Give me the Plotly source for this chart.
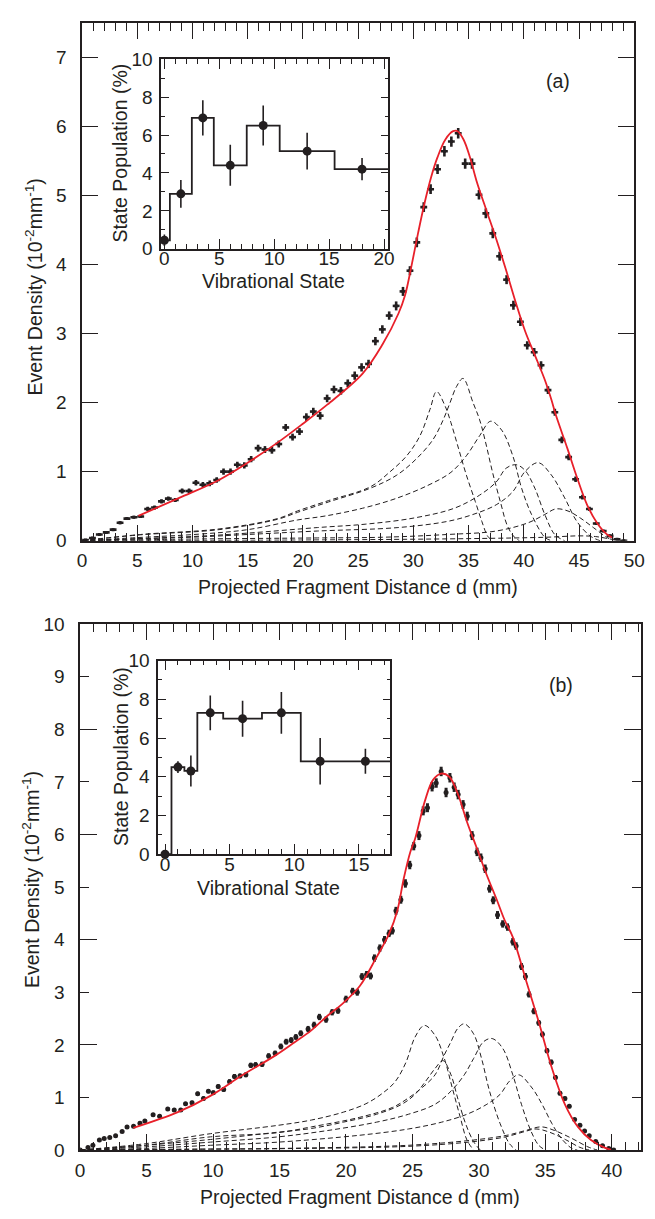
import plotly.graph_objects as go

FONT = "Liberation Sans, Arial, Helvetica, sans-serif"
INK = "#231f20"
RED = "#e8202a"
W, H = 655, 1219

# ---------------- Panel (a): measured points ----------------
a_x = [0.31, 0.94, 1.56, 2.19, 2.81, 3.44, 4.06, 4.69, 5.31, 5.94, 6.56, 7.19, 7.81, 8.44, 9.06, 9.69,
       10.31, 10.94, 11.56, 12.19, 12.81, 13.44, 14.06, 14.69, 15.31, 15.94, 16.56, 17.19, 17.81, 18.44,
       19.06, 19.69, 20.31, 20.94, 21.56, 22.19, 22.81, 23.44, 24.06, 24.69, 25.31, 25.94, 26.56, 27.19,
       27.81, 28.44, 29.06, 29.69, 30.31, 30.94, 31.56, 32.19, 32.81, 33.44, 34.06, 34.69, 35.31, 35.94,
       36.56, 37.19, 37.81, 38.44, 39.06, 39.69, 40.31, 40.94, 41.56, 42.19, 42.81, 43.44, 44.06, 44.69,
       45.31, 45.94, 46.56, 47.19, 47.81, 48.44, 49.06]
a_y = [0.01, 0.04, 0.09, 0.12, 0.16, 0.26, 0.32, 0.34, 0.35, 0.46, 0.48, 0.57, 0.61, 0.59, 0.72, 0.72,
       0.84, 0.81, 0.83, 0.88, 1.00, 1.00, 1.10, 1.09, 1.18, 1.34, 1.32, 1.31, 1.40, 1.64,
       1.50, 1.58, 1.79, 1.87, 1.81, 2.06, 2.19, 2.17, 2.28, 2.39, 2.51, 2.56, 2.89, 3.06,
       3.26, 3.40, 3.61, 3.91, 4.32, 4.83, 5.09, 5.38, 5.64, 5.78, 5.90, 5.46, 5.46, 5.01,
       4.74, 4.45, 4.12, 3.78, 3.41, 3.17, 2.83, 2.73, 2.54, 2.18, 1.86, 1.46, 1.21, 0.89,
       0.63, 0.46, 0.25, 0.14, 0.07, 0.02, 0.00]
a_err = [0.01, 0.01, 0.015, 0.015, 0.015, 0.02, 0.02, 0.02, 0.02, 0.03, 0.03, 0.03, 0.03, 0.03, 0.035, 0.035,
         0.04, 0.04, 0.04, 0.04, 0.045, 0.045, 0.045, 0.045, 0.045, 0.05, 0.05, 0.05, 0.05, 0.05,
         0.05, 0.05, 0.055, 0.055, 0.055, 0.055, 0.055, 0.055, 0.055, 0.06, 0.06, 0.06, 0.06, 0.06,
         0.06, 0.065, 0.065, 0.065, 0.07, 0.07, 0.07, 0.07, 0.075, 0.075, 0.075, 0.075, 0.075, 0.07,
         0.07, 0.07, 0.065, 0.065, 0.065, 0.06, 0.06, 0.06, 0.06, 0.055, 0.05, 0.05, 0.045, 0.04,
         0.035, 0.03, 0.02, 0.015, 0.01, 0.01, 0.01]

# Panel (a): total fit (red)
a_fit_x = [5.1, 8.8, 12.4, 15.3, 17.7, 19.8, 22.2, 25.4, 27.2, 28.65, 29.24, 29.83, 30.42, 31.0, 31.6,
           32.18, 32.9, 33.6, 34.0, 34.54, 35.13, 35.72, 36.6, 37.48, 38.37, 39.25, 40.13, 41.02, 41.9,
           42.5, 42.88, 43.96, 44.85, 45.73, 46.62, 47.5, 48.08]
a_fit_y = [0.36, 0.62, 0.88, 1.16, 1.42, 1.67, 1.97, 2.42, 2.84, 3.29, 3.55, 3.98, 4.45, 4.88, 5.26,
           5.55, 5.81, 5.93, 5.93, 5.81, 5.55, 5.21, 4.79, 4.38, 3.93, 3.46, 3.03, 2.68, 2.33,
           2.04, 1.83, 1.33, 0.90, 0.52, 0.26, 0.095, 0.04]

# Panel (a): component curves (dashed)
a_c1_x = [0, 5.3, 12.4, 17.7, 19.5, 22.3, 26.1, 27.9, 29.4, 30.6, 31.5, 32.1, 32.9, 33.4, 34.1, 34.8, 35.6, 36.2, 36.75, 37.2]
a_c1_y = [0, 0.09, 0.17, 0.32, 0.43, 0.58, 0.78, 1.0, 1.23, 1.52, 1.90, 2.16, 1.94, 1.71, 1.33, 0.95, 0.57, 0.28, 0.06, 0]
a_c2_x = [0, 5.3, 12.4, 17.7, 19.5, 22.3, 26.1, 28.5, 30.3, 31.8, 32.7, 33.3, 33.9, 34.5, 35.4, 36.0, 36.5, 37.2, 37.9, 38.5, 39.1, 39.6]
a_c2_y = [0, 0.085, 0.16, 0.31, 0.41, 0.56, 0.76, 0.95, 1.19, 1.47, 1.75, 1.99, 2.23, 2.35, 2.0, 1.75, 1.45, 0.97, 0.55, 0.22, 0.06, 0]
a_c3_x = [0, 5, 10.6, 15, 19.5, 22.1, 25.4, 28.4, 31.3, 33.4, 34.8, 36.0, 37.0, 38.0, 39.0, 39.8, 40.7, 41.9, 42.5]
a_c3_y = [0, 0.045, 0.095, 0.16, 0.3, 0.36, 0.47, 0.61, 0.80, 0.99, 1.23, 1.52, 1.73, 1.6, 1.23, 0.76, 0.38, 0.05, 0]
a_c4_x = [0, 5, 10.6, 15, 21.3, 25.7, 30.1, 33.7, 36.0, 37.5, 38.4, 39.3, 40.1, 41.0, 41.9, 42.8, 43.7]
a_c4_y = [0, 0.03, 0.065, 0.11, 0.19, 0.24, 0.33, 0.47, 0.66, 0.85, 1.05, 1.10, 1.02, 0.76, 0.38, 0.09, 0]
a_c5_x = [0, 5, 10.6, 15, 21.3, 28.6, 33.1, 35.4, 37.5, 39.0, 40.1, 41.3, 42.5, 43.7, 44.8, 46.0, 46.9]
a_c5_y = [0, 0.025, 0.055, 0.09, 0.14, 0.19, 0.28, 0.38, 0.52, 0.71, 1.0, 1.13, 0.95, 0.62, 0.28, 0.07, 0]
a_c6_x = [0, 10.6, 21.3, 27.2, 33.1, 37.5, 40.4, 41.9, 42.9, 44.0, 45.1, 46.3, 47.5, 48.1]
a_c6_y = [0, 0.025, 0.04, 0.05, 0.09, 0.14, 0.26, 0.38, 0.46, 0.43, 0.33, 0.19, 0.05, 0]
a_c7_x = [0, 20, 35, 42, 45, 46.5, 48, 49]
a_c7_y = [0, 0.01, 0.03, 0.05, 0.07, 0.06, 0.02, 0]

# Inset (a): vibrational state populations
ia_state = [0, 1.5, 3.5, 6, 9, 13, 18]
ia_pop = [0.45, 2.9, 6.9, 4.4, 6.5, 5.15, 4.2]
ia_err = [0.3, 0.73, 0.93, 1.08, 1.05, 0.97, 0.59]
ia_edges = [0, 0.5, 2.5, 4.5, 7.5, 10.5, 15.5, 20.5]
ia_steps = [0.45, 2.9, 6.9, 4.4, 6.5, 5.15, 4.2, 4.2]

# ---------------- Panel (b): measured points ----------------
b_x = [0.0, 0.59, 0.96, 1.45, 1.81, 2.23, 2.67, 3.16, 3.53, 4.02, 4.5, 4.87, 5.49, 5.98, 6.59, 7.08,
       7.57, 7.93, 8.42, 8.84, 9.28, 9.65, 10.02, 10.39, 10.8, 11.24, 11.61, 12.03, 12.47, 12.84,
       13.2, 13.69, 14.18, 14.67, 15.1, 15.5, 15.88, 16.23, 16.6, 17.15, 17.6, 18.0, 18.5, 18.96,
       19.4, 20.0, 20.5, 20.85, 21.2, 21.55, 21.85, 22.14, 22.55, 22.9, 23.24, 23.49, 23.76, 24.13,
       24.47, 24.8, 25.1, 25.49, 25.81, 26.13, 26.48, 26.79, 27.16, 27.53, 27.82, 28.14, 28.44, 28.81,
       29.12, 29.49, 29.86, 30.15, 30.47, 30.8, 31.08, 31.4, 31.79, 32.15, 32.55, 32.8, 33.2, 33.5,
       33.77, 34.14, 34.5, 34.78, 35.12, 35.44, 35.76, 36.1, 36.47, 36.8, 37.2, 37.6, 37.95, 38.3,
       38.79, 39.3, 39.77, 40.14]
b_y = [0.0, 0.05, 0.09, 0.19, 0.22, 0.24, 0.27, 0.35, 0.44, 0.45, 0.51, 0.55, 0.67, 0.64, 0.78, 0.76,
       0.76, 0.88, 0.90, 1.07, 0.98, 1.12, 1.09, 1.21, 1.15, 1.30, 1.40, 1.41, 1.43, 1.61,
       1.62, 1.63, 1.79, 1.84, 1.97, 2.06, 2.09, 2.15, 2.22, 2.30, 2.38, 2.53, 2.48, 2.62,
       2.65, 2.87, 3.02, 3.00, 3.30, 3.34, 3.31, 3.65, 3.84, 4.00, 4.12, 4.17, 4.55, 4.76,
       5.07, 5.42, 5.78, 5.98, 6.45, 6.51, 6.91, 6.98, 7.20, 6.80, 7.08, 6.90, 6.76, 6.57,
       6.35, 5.98, 5.67, 5.56, 5.35, 4.97, 4.75, 4.47, 4.30, 4.24, 3.96, 3.88, 3.49, 3.30,
       2.96, 2.64, 2.42, 2.20, 1.89, 1.67, 1.38, 1.08, 0.98, 0.83, 0.58, 0.47, 0.36, 0.27,
       0.16, 0.08, 0.03, 0.00]
b_err = [0.01, 0.015, 0.015, 0.02, 0.02, 0.02, 0.02, 0.025, 0.025, 0.025, 0.03, 0.03, 0.03, 0.03, 0.035, 0.035,
         0.035, 0.035, 0.035, 0.04, 0.04, 0.04, 0.04, 0.04, 0.04, 0.045, 0.045, 0.045, 0.045, 0.05,
         0.05, 0.05, 0.05, 0.05, 0.055, 0.055, 0.055, 0.055, 0.055, 0.06, 0.06, 0.06, 0.06, 0.06,
         0.06, 0.065, 0.065, 0.065, 0.065, 0.065, 0.065, 0.07, 0.07, 0.07, 0.07, 0.07, 0.075, 0.075,
         0.08, 0.08, 0.08, 0.085, 0.085, 0.085, 0.09, 0.09, 0.09, 0.09, 0.09, 0.09, 0.09, 0.085,
         0.085, 0.085, 0.08, 0.08, 0.08, 0.075, 0.075, 0.075, 0.07, 0.07, 0.07, 0.07, 0.065, 0.065,
         0.06, 0.06, 0.055, 0.055, 0.05, 0.05, 0.045, 0.04, 0.04, 0.035, 0.03, 0.03, 0.025, 0.02,
         0.02, 0.015, 0.01, 0.01]

b_fit_x = [4.0, 7.35, 9.8, 12.25, 14.7, 16.14, 17.37, 18.59, 19.81, 21.04, 22.26, 23.24, 23.86, 24.35,
           24.84, 25.2, 25.94, 26.55, 27.16, 27.77, 28.39, 29.12, 29.86, 30.59, 31.33, 31.94, 32.55,
           33.53, 34.51, 35.49, 36.47, 37.45, 38.43, 39.41, 40.0]
b_fit_y = [0.42, 0.72, 1.03, 1.43, 1.80, 2.05, 2.27, 2.55, 2.80, 3.12, 3.65, 4.11, 4.55, 5.17,
           5.67, 5.92, 6.64, 7.04, 7.16, 7.10, 6.79, 6.23, 5.73, 5.23, 4.77, 4.37, 4.05,
           3.24, 2.43, 1.56, 0.87, 0.44, 0.19, 0.05, 0.0]

b_c1_x = [0, 4.9, 9.8, 14.9, 17.4, 19.8, 21.5, 22.75, 23.7, 24.5, 25.2, 25.9, 26.7, 27.4, 28.0, 28.6, 29.1, 29.6]
b_c1_y = [0, 0.12, 0.31, 0.47, 0.57, 0.72, 0.88, 1.08, 1.30, 1.66, 2.15, 2.37, 2.18, 1.74, 1.18, 0.62, 0.19, 0]
b_c2_x = [0, 4.9, 9.8, 14.9, 17.4, 19.8, 22.3, 24.2, 25.2, 26.0, 26.7, 27.3, 27.9, 28.4, 29.0, 29.6, 30.1]
b_c2_y = [0, 0.09, 0.20, 0.34, 0.41, 0.53, 0.68, 0.87, 1.06, 1.31, 1.55, 1.70, 1.43, 0.99, 0.50, 0.16, 0]
b_c3_x = [0, 4.9, 9.8, 14.9, 17.4, 21.0, 23.5, 24.7, 25.7, 26.7, 27.4, 27.9, 28.4, 28.9, 29.6, 30.2, 30.8, 31.6, 32.3, 32.8]
b_c3_y = [0, 0.09, 0.25, 0.33, 0.44, 0.62, 0.81, 0.99, 1.18, 1.43, 1.81, 2.06, 2.31, 2.40, 2.21, 1.74, 1.12, 0.50, 0.12, 0]
b_c4_x = [0, 4.9, 9.8, 14.9, 18.6, 22.3, 24.7, 26.7, 27.9, 28.9, 29.6, 30.35, 31.0, 31.8, 32.55, 33.2, 33.9, 34.5, 35.0]
b_c4_y = [0, 0.06, 0.15, 0.25, 0.37, 0.53, 0.68, 0.87, 1.12, 1.43, 1.74, 2.06, 2.12, 1.93, 1.43, 0.87, 0.37, 0.09, 0]
b_c5_x = [0, 4.9, 9.8, 14.9, 21.0, 24.7, 27.2, 29.1, 30.6, 31.6, 32.3, 33.0, 34.0, 34.75, 35.5, 36.2, 37.0, 37.4]
b_c5_y = [0, 0.03, 0.09, 0.15, 0.28, 0.40, 0.53, 0.68, 0.87, 1.06, 1.31, 1.43, 1.18, 0.87, 0.50, 0.22, 0.03, 0]
b_c6_x = [0, 9.8, 14.9, 24.7, 29.6, 32.1, 33.5, 34.7, 35.7, 37.0, 38.2, 38.9]
b_c6_y = [0, 0.02, 0.03, 0.09, 0.19, 0.28, 0.37, 0.44, 0.37, 0.22, 0.06, 0]
b_c7_x = [0, 9.8, 14.9, 24.7, 29.6, 32.0, 33.3, 34.3, 35.3, 36.5, 37.6, 38.3]
b_c7_y = [0, 0.015, 0.025, 0.07, 0.16, 0.25, 0.34, 0.40, 0.34, 0.20, 0.05, 0]

# Inset (b)
ib_state = [0, 1, 2, 3.5, 6, 9, 12, 15.5]
ib_pop = [0.0, 4.5, 4.3, 7.3, 7.0, 7.3, 4.8, 4.8]
ib_err = [0.08, 0.3, 0.8, 0.9, 0.93, 1.08, 1.2, 0.65]
ib_edges = [0, 0.5, 1.5, 2.5, 4.5, 7.5, 10.5, 13.5, 17.5]
ib_steps = [0.0, 4.5, 4.3, 7.3, 7.0, 7.3, 4.8, 4.8, 4.8]

a_components = [(a_c1_x, a_c1_y), (a_c2_x, a_c2_y), (a_c3_x, a_c3_y), (a_c4_x, a_c4_y),
                (a_c5_x, a_c5_y), (a_c6_x, a_c6_y), (a_c7_x, a_c7_y)]
b_components = [(b_c1_x, b_c1_y), (b_c2_x, b_c2_y), (b_c3_x, b_c3_y), (b_c4_x, b_c4_y),
                (b_c5_x, b_c5_y), (b_c6_x, b_c6_y), (b_c7_x, b_c7_y)]

fig = go.Figure()

dash_line = dict(color=INK, width=1, dash="5px,3px")

# ---- panel (a) ----
for cx, cy in a_components:
    fig.add_trace(go.Scatter(x=cx, y=cy, mode="lines", line=dash_line, line_shape="spline",
                             xaxis="x", yaxis="y", showlegend=False, hoverinfo="skip"))
fig.add_trace(go.Scatter(x=a_x, y=a_y, mode="markers",
                         marker=dict(symbol="square", size=3, color=INK),
                         error_x=dict(type="constant", value=0.31, width=0, thickness=2.6, color=INK),
                         error_y=dict(type="data", array=a_err, width=0, thickness=2.6, color=INK),
                         xaxis="x", yaxis="y", showlegend=False))
fig.add_trace(go.Scatter(x=a_fit_x, y=a_fit_y, mode="lines", line=dict(color=RED, width=1.8),
                         line_shape="spline", xaxis="x", yaxis="y", showlegend=False))

# inset (a)
fig.add_trace(go.Scatter(x=ia_edges, y=ia_steps, mode="lines", line=dict(color=INK, width=1.8, shape="hv"),
                         xaxis="x2", yaxis="y2", showlegend=False))
fig.add_trace(go.Scatter(x=ia_state, y=ia_pop, mode="markers",
                         marker=dict(symbol="circle", size=9, color=INK),
                         error_y=dict(type="data", array=ia_err, width=0, thickness=1.6, color=INK),
                         xaxis="x2", yaxis="y2", showlegend=False, cliponaxis=False))

# ---- panel (b) ----
for cx, cy in b_components:
    fig.add_trace(go.Scatter(x=cx, y=cy, mode="lines", line=dash_line, line_shape="spline",
                             xaxis="x3", yaxis="y3", showlegend=False, hoverinfo="skip"))
fig.add_trace(go.Scatter(x=b_x, y=b_y, mode="markers",
                         marker=dict(symbol="circle", size=5, color=INK),
                         error_y=dict(type="data", array=b_err, width=0, thickness=3, color=INK),
                         xaxis="x3", yaxis="y3", showlegend=False))
fig.add_trace(go.Scatter(x=b_fit_x, y=b_fit_y, mode="lines", line=dict(color=RED, width=1.8),
                         line_shape="spline", xaxis="x3", yaxis="y3", showlegend=False))
# helper (empty) trace so the overlay axis carrying the long ticks is drawn
fig.add_trace(go.Scatter(x=[], y=[], xaxis="x3", yaxis="y5", showlegend=False))

# inset (b)
fig.add_trace(go.Scatter(x=ib_edges, y=ib_steps, mode="lines", line=dict(color=INK, width=1.8, shape="hv"),
                         xaxis="x4", yaxis="y4", showlegend=False))
fig.add_trace(go.Scatter(x=ib_state, y=ib_pop, mode="markers",
                         marker=dict(symbol="circle", size=9, color=INK),
                         error_y=dict(type="data", array=ib_err, width=0, thickness=1.6, color=INK),
                         xaxis="x4", yaxis="y4", showlegend=False, cliponaxis=False))

tickfont = dict(family=FONT, size=19, color=INK)


def main_x(domain, rng, anchor):
    return dict(domain=domain, range=rng, anchor=anchor, showline=True, linecolor=INK, linewidth=1.5,
                mirror="ticks", ticks="inside", ticklen=16, tickwidth=1.3, tickcolor=INK, dtick=5, tick0=0,
                minor=dict(ticks="inside", ticklen=8, tickwidth=1, tickcolor=INK, dtick=1),
                showgrid=False, zeroline=False, tickfont=tickfont, ticklabelstandoff=2)


def inset_x(domain, rng, anchor):
    return dict(domain=domain, range=rng, anchor=anchor, showline=True, linecolor=INK, linewidth=1.5,
                mirror="ticks", ticks="inside", ticklen=10, tickwidth=1.2, tickcolor=INK, dtick=5, tick0=0,
                minor=dict(ticks="inside", ticklen=5, tickwidth=1, tickcolor=INK, dtick=1),
                showgrid=False, zeroline=False, tickfont=tickfont, ticklabelstandoff=-8)


def inset_y(domain, anchor):
    return dict(domain=domain, range=[0, 10], anchor=anchor, showline=True, linecolor=INK, linewidth=1.5,
                mirror="ticks", ticks="inside", ticklen=8, tickwidth=1.2, tickcolor=INK, dtick=2, tick0=0,
                minor=dict(ticks="inside", ticklen=4, tickwidth=1, tickcolor=INK, dtick=1),
                showgrid=False, zeroline=False, tickfont=tickfont, ticklabelstandoff=3)


def px_x(p):
    return p / W


def px_y(p):
    return 1 - p / H


fig.update_layout(
    width=W, height=H, margin=dict(l=0, r=0, t=0, b=0),
    paper_bgcolor="white", plot_bgcolor="white",
    font=dict(family=FONT, color=INK),
    xaxis=main_x([px_x(79), px_x(645)], [0, 50], "y"),
    yaxis=dict(domain=[px_y(540), px_y(13)], range=[0, 7.5], anchor="x", showline=True, linecolor=INK,
               linewidth=1.5, mirror="ticks", ticks="inside", ticklen=16, tickwidth=1.3, tickcolor=INK,
               dtick=1, tick0=0, showgrid=False, zeroline=False, tickfont=tickfont, ticklabelstandoff=10),
    xaxis2=inset_x([px_x(160), px_x(393)], [-0.3, 20.4], "y2"),
    yaxis2=inset_y([px_y(243), px_y(50)], "x2"),
    xaxis3=main_x([px_x(77), px_x(652)], [0, 42.2], "y3"),
    yaxis3=dict(domain=[px_y(1160), px_y(625)], range=[0, 10], anchor="x3", showline=True, linecolor=INK,
                linewidth=1.5, mirror="ticks", ticks="inside", ticklen=9, tickwidth=1.3, tickcolor=INK,
                dtick=1, tick0=0, showgrid=False, zeroline=False, tickfont=tickfont, ticklabelstandoff=10),
    yaxis5=dict(overlaying="y3", anchor="x3", range=[0, 10], showline=False, mirror="ticks",
                ticks="inside", ticklen=17, tickwidth=1.3, tickcolor=INK, tickvals=[0, 2, 4, 6, 8, 10],
                showticklabels=False, showgrid=False, zeroline=False),
    xaxis4=inset_x([px_x(157), px_x(395)], [-0.53, 17.43], "y4"),
    yaxis4=inset_y([px_y(859), px_y(662)], "x4"),
)

title_font = dict(family=FONT, size=19.5, color=INK)
annos = [
    ("Event Density (10<sup>-2</sup>mm<sup>-1</sup>)", 30, 282, -90),
    ("Projected Fragment Distance d (mm)", 362, 587, 0),
    ("Event Density (10<sup>-2</sup>mm<sup>-1</sup>)", 26, 885, -90),
    ("Projected Fragment Distance d (mm)", 364, 1208, 0),
    ("State Population (%)", 118, 146, -90),
    ("Vibrational State", 275, 276, 0),
    ("State Population (%)", 119, 760, -90),
    ("Vibrational State", 270, 893, 0),
    ("(a)", 567, 72, 0),
    ("(b)", 570, 687, 0),
]
for text, ax_, ay_, ang in annos:
    fig.add_annotation(text=text, x=px_x(ax_), y=px_y(ay_), xref="paper", yref="paper",
                       xanchor="center", yanchor="middle", textangle=ang, showarrow=False,
                       font=title_font)

fig.write_html("out.html")
